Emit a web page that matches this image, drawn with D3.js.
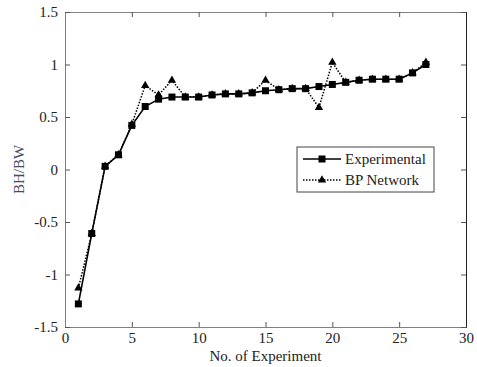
<!DOCTYPE html>
<html>
<head>
<meta charset="utf-8">
<script src="https://cdn.jsdelivr.net/npm/d3@7"></script>
<style>
  body { margin: 0; background: #fff; }
  svg text { font-family: 'Liberation Serif', 'Times New Roman', 'DejaVu Serif', serif; }
</style>
</head>
<body>
<div id="chart"></div>
<script>
// experiment numbers 1..27
const experiments = [1, 2, 3, 4, 5, 6, 7, 8, 9, 10, 11, 12, 13, 14, 15, 16, 17, 18, 19, 20, 21, 22, 23, 24, 25, 26, 27];
const experimental = [-1.28, -0.61, 0.03, 0.14, 0.42, 0.60, 0.67, 0.69, 0.69, 0.69, 0.71, 0.72, 0.72, 0.73,
  0.75, 0.76, 0.77, 0.77, 0.79, 0.81, 0.83, 0.85, 0.86, 0.86, 0.86, 0.92, 1.0];
const bpNetwork = [-1.13, -0.61, 0.03, 0.14, 0.43, 0.80, 0.71, 0.85, 0.69, 0.69, 0.71, 0.72, 0.72, 0.73,
  0.85, 0.76, 0.77, 0.77, 0.59, 1.02, 0.83, 0.85, 0.86, 0.86, 0.86, 0.92, 1.02];
const xTicks = [0, 5, 10, 15, 20, 25, 30];
const yTicks = [-1.5, -1, -0.5, 0, 0.5, 1, 1.5];
const seriesNames = ['Experimental', 'BP Network'];

const W = 477, H = 367;
const margin = { top: 12, right: 11, bottom: 40, left: 65 };
const width = W - margin.left - margin.right;
const height = H - margin.top - margin.bottom;
const serif = "'Liberation Serif', 'Times New Roman', 'DejaVu Serif', serif";

const svg = d3.select('#chart').append('svg')
  .attr('width', W)
  .attr('height', H);

const x = d3.scaleLinear().domain([0, 30]).range([margin.left, margin.left + width]);
const y = d3.scaleLinear().domain([-1.5, 1.5]).range([margin.top + height, margin.top]);

// axes, ticks pointing inward
svg.append('g')
  .attr('transform', `translate(0,${margin.top + height})`)
  .call(d3.axisBottom(x).tickValues(xTicks).tickSize(-5).tickPadding(5).tickFormat(d3.format('d')))
  .call(g => g.select('.domain').attr('stroke', '#808080'));
svg.append('g')
  .attr('transform', `translate(0,${margin.top})`)
  .call(d3.axisTop(x).tickValues(xTicks).tickSize(-5).tickFormat(''))
  .call(g => g.select('.domain').attr('stroke', '#808080'));
svg.append('g')
  .attr('transform', `translate(${margin.left},0)`)
  .call(d3.axisLeft(y).tickValues(yTicks).tickSize(-5).tickPadding(7).tickFormat(d => d))
  .call(g => g.select('.domain').attr('stroke', '#808080'));
svg.append('g')
  .attr('transform', `translate(${margin.left + width},0)`)
  .call(d3.axisRight(y).tickValues(yTicks).tickSize(-5).tickFormat(''))
  .call(g => g.select('.domain').attr('stroke', '#222'));

svg.selectAll('g').attr('font-family', serif);
svg.selectAll('.tick line').attr('stroke', '#555');
svg.selectAll('.tick text')
  .attr('font-size', 15)
  .attr('fill', '#222');

// axis titles
svg.append('text')
  .attr('x', x(15))
  .attr('y', 361)
  .attr('text-anchor', 'middle')
  .attr('font-size', 15)
  .attr('fill', '#222')
  .text('No. of Experiment');
svg.append('text')
  .attr('transform', `translate(24,${y(0)}) rotate(-90)`)
  .attr('text-anchor', 'middle')
  .attr('font-size', 15)
  .attr('fill', '#4a4a5e')
  .text('BH/BW');

const line = d3.line()
  .x((d, i) => x(experiments[i]))
  .y(d => y(d));

// BP network: dotted line with triangles
svg.append('path')
  .datum(bpNetwork)
  .attr('fill', 'none')
  .attr('stroke', '#000')
  .attr('stroke-width', 1.5)
  .attr('stroke-dasharray', '1.5,1.5')
  .attr('d', line);
svg.append('g').selectAll('path')
  .data(bpNetwork)
  .join('path')
  .attr('transform', (d, i) => `translate(${x(experiments[i])},${y(d)})`)
  .attr('d', d3.symbol(d3.symbolTriangle, 30))
  .attr('fill', '#000');

// experimental: solid line with squares
svg.append('path')
  .datum(experimental)
  .attr('fill', 'none')
  .attr('stroke', '#000')
  .attr('stroke-width', 1.6)
  .attr('d', line);
svg.append('g').selectAll('rect')
  .data(experimental)
  .join('rect')
  .attr('x', (d, i) => x(experiments[i]) - 3.5)
  .attr('y', d => y(d) - 3.5)
  .attr('width', 7)
  .attr('height', 7)
  .attr('fill', '#000');

// legend
const lg = svg.append('g').attr('transform', 'translate(297,147)');
lg.append('rect')
  .attr('width', 137)
  .attr('height', 45)
  .attr('fill', '#fff')
  .attr('stroke', '#444');
const rows = [
  { y: 12, dash: null, marker: 'square' },
  { y: 33, dash: '1.5,1.5', marker: 'triangle' }
];
rows.forEach((r, i) => {
  lg.append('line')
    .attr('x1', 6).attr('x2', 44)
    .attr('y1', r.y).attr('y2', r.y)
    .attr('stroke', '#000')
    .attr('stroke-width', 1.5)
    .attr('stroke-dasharray', r.dash);
  if (r.marker === 'square') {
    lg.append('rect').attr('x', 21.5).attr('y', r.y - 3.5).attr('width', 7).attr('height', 7).attr('fill', '#000');
  } else {
    lg.append('path').attr('transform', `translate(25,${r.y})`)
      .attr('d', d3.symbol(d3.symbolTriangle, 30)).attr('fill', '#000');
  }
  lg.append('text')
    .attr('x', 48)
    .attr('y', r.y + 5)
    .attr('font-size', 15)
    .attr('font-family', serif)
    .attr('fill', '#222')
    .text(seriesNames[i]);
});
</script>
</body>
</html>
